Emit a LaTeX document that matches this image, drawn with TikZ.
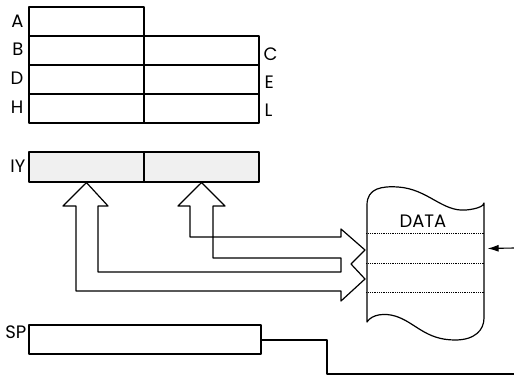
\documentclass[tikz,border=0pt]{standalone}
\usepackage{fontspec}
\setmainfont{Poppins}
\usetikzlibrary{arrows.meta,calc}
\begin{document}
\begin{tikzpicture}[x=1pt,y=-1pt,line width=1.2pt,line join=round,
  reg/.style={draw, rectangle, inner sep=0pt, minimum height=29pt, minimum width=115pt},
  iyreg/.style={reg, minimum height=30pt, fill=gray!12},
  lbl/.style={inner sep=0pt, font=\fontsize{18}{18}\selectfont},
  cellline/.style={densely dotted, line width=0.8pt},
  pointer/.style={-{Latex[length=11pt,width=7pt]}, line width=1.1pt}]
\useasboundingbox (0,0) rectangle (514,375);
% main registers
\node[reg] (A) at (86.5,21.5) {};
\node[reg] (B) at (86.5,50.5) {};
\node[reg] (C) at (201.5,50.5) {};
\node[reg] (D) at (86.5,79.5) {};
\node[reg] (E) at (201.5,79.5) {};
\node[reg] (H) at (86.5,108.5) {};
\node[reg] (L) at (201.5,108.5) {};
\node[lbl, anchor=east] (lA) at (24,21.5) {A};
\node[lbl, anchor=east] (lB) at (24,49.5) {B};
\node[lbl, anchor=east] (lD) at (24,78.5) {D};
\node[lbl, anchor=east] (lH) at (24,107.5) {H};
\node[lbl, anchor=west] (lC) at (263,54.5) {C};
\node[lbl, anchor=west] (lE) at (264,82.5) {E};
\node[lbl, anchor=west] (lL) at (264,110.5) {L};
% IY register
\node[iyreg] (iyh) at (86.5,167) {};
\node[iyreg] (iyl) at (201.5,167) {};
\node[lbl, anchor=east] (lIY) at (26,166.5) {IY};
% memory
\coordinate (memnw) at (367,205);
\draw[fill=white] (memnw) .. controls (367,188) and (382,186) .. (398,187)
  .. controls (428,189) and (442,212) .. (466,210)
  .. controls (477,209) and (484,206) .. (484,203)
  -- (484,318)
  .. controls (484,330) and (475,340) .. (455,340)
  .. controls (425,340) and (415,322) .. (395,316)
  .. controls (385,313) and (372,314) .. (367,322) -- cycle;
\node[lbl] (data) at (423,221.5) {DATA};
\node[inner sep=0pt, minimum width=117pt, minimum height=29pt] (cell1) at (425.5,248.5) {};
\node[inner sep=0pt, minimum width=117pt, minimum height=29pt] (cell2) at (425.5,277.5) {};
\draw[cellline] (cell1.north west) -- (cell1.north east);
\draw[cellline] (cell1.south west) -- (cell1.south east);
\draw[cellline] (cell2.south west) -- (cell2.south east);
\coordinate (ptrstart) at (514,248);
\draw[pointer] (ptrstart) -- ([xshift=3pt]cell1.east);
% block arrows
\draw[fill=white] (341,291) -- (76,291) -- (76,206) -- (63,206) -- (iyh.south)
  -- (108,206) -- (98,206) -- (98,272) -- (341,272) -- (341,258)
  -- (213,258) -- (213,206) -- (225,206) -- (iyl.south) -- (178,206)
  -- (190,206) -- (190,237) -- (341,237) -- (341,229) -- (365,250)
  -- (351,264) -- (365,279) -- (341,301) -- cycle;
% SP
\node[reg, minimum width=232pt] (SP) at (145,339.5) {};
\node[lbl, anchor=east] (lSP) at (27,332) {SP};
\coordinate (spend) at (514,374);
\draw (SP.east |- 0,340) -- (327,340) -- (327,374) -- (spend);
\end{tikzpicture}
\end{document}
